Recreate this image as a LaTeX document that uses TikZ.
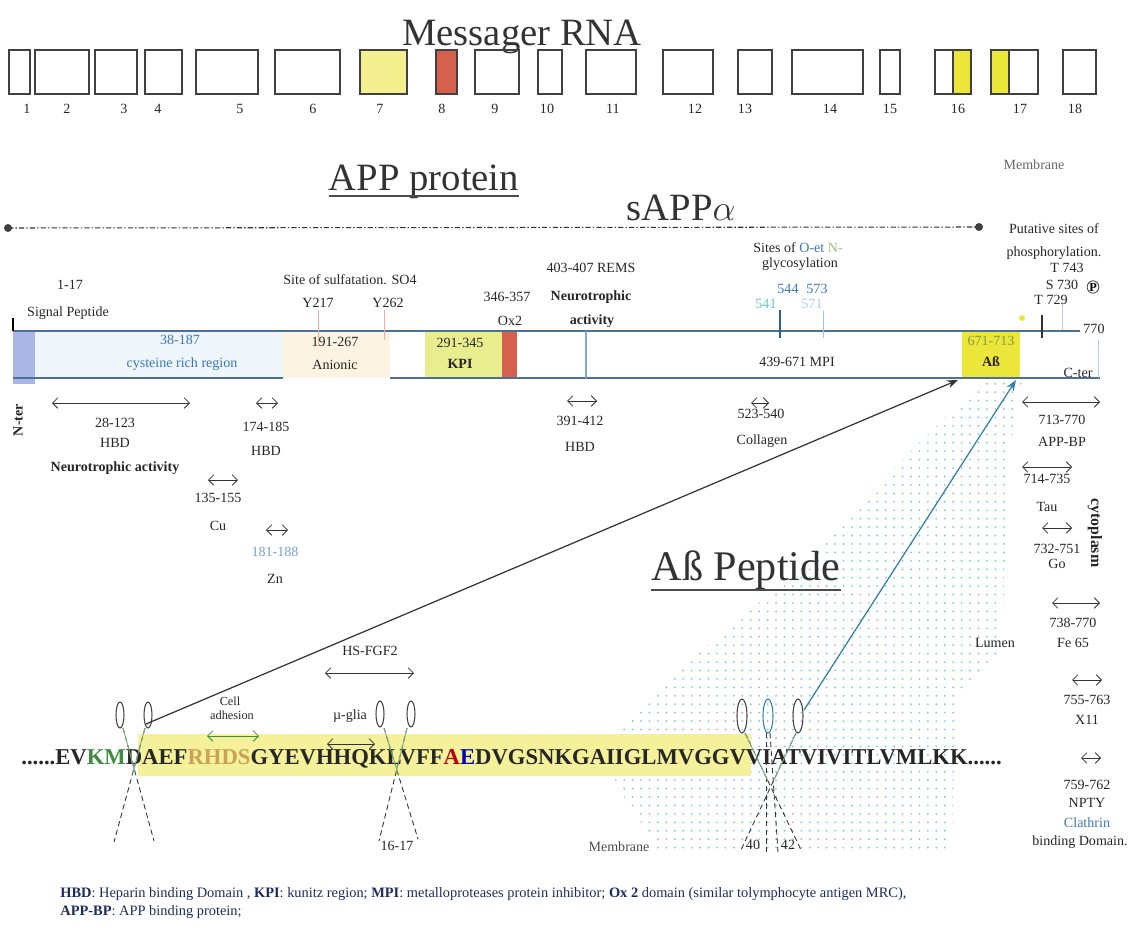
\documentclass[tikz,border=0pt]{standalone}
\usepackage{fontspec}
\setmainfont{Liberation Serif}
\usetikzlibrary{arrows.meta,patterns,calc,shapes.geometric}

\definecolor{exyel}{HTML}{F3EF8E}
\definecolor{exred}{HTML}{D5604E}
\definecolor{abyel}{HTML}{EDE63A}
\definecolor{kpiyel}{HTML}{E8EE8E}
\definecolor{txtblue}{HTML}{3C78B4}
\definecolor{barline}{HTML}{4E6F98}
\definecolor{barblue}{HTML}{7AAAD8}
\definecolor{sigblue}{HTML}{AAB6E6}
\definecolor{cysblue}{HTML}{EEF5FB}
\definecolor{anipeach}{HTML}{FDF3E2}
\definecolor{seqyel}{HTML}{F4F19A}
\definecolor{rhds}{HTML}{C9A258}
\definecolor{seqgreen}{HTML}{3F8C3F}
\definecolor{abgreen}{HTML}{7F9C44}
\definecolor{cutblue}{HTML}{2E7FA6}
\definecolor{footnavy}{HTML}{1C2B5C}
\definecolor{stipblue}{HTML}{8EC3EA}

\pgfdeclarepatternformonly{stip}{\pgfqpoint{-1pt}{-1pt}}{\pgfqpoint{1pt}{1pt}}{\pgfqpoint{4.8pt}{4.8pt}}%
  {\pgfpathcircle{\pgfqpoint{0pt}{0pt}}{0.6pt}\pgfusepath{fill}}

\newcommand\rangebar[3]{\draw[rng] (#1,#3) -- (#2,#3);}

\begin{document}
\begin{tikzpicture}[x=0.2mm,y=-0.2mm,>=Stealth,
  lab/.style={font=\fontsize{8}{8.5}\selectfont, inner sep=0.5pt, text=black!85},
  bl/.style={font=\fontsize{8}{8.5}\selectfont\bfseries, inner sep=0.5pt, text=black!85},
  blu/.style={lab, text=txtblue},
  bigtitle/.style={font=\fontsize{22}{24}\selectfont, inner sep=0pt, text=black!80},
  rng/.style={{Straight Barb[length=3pt,width=6pt]}-{Straight Barb[length=3pt,width=6pt]}, line width=0.45pt, black!80},
  exon/.style={draw=black!75, line width=0.9pt},
  loop/.style={draw=black!75, line width=0.6pt},
  cutline/.style={black!80, line width=0.5pt, dash pattern=on 3pt off 2pt}]
\useasboundingbox (0,0) rectangle (1131,932);

\fill[pattern=stip, pattern color=stipblue] (985,380) -- (1022,380) -- (1008,460) -- (1002,650) -- (955,700)
  -- (952,852) -- (660,852) -- (600,760) -- (620,730) -- (680,670) -- (786,580) -- (928,434) -- cycle;

\node[bigtitle, anchor=base] (mrna) at (522,45) {Messager RNA};
\fill[exyel] (360,50) rectangle (407,94);
\fill[exred] (436,50) rectangle (457,94);
\fill[abyel] (953,50) rectangle (971,94);
\fill[abyel] (991,50) rectangle (1009,94);
\foreach \a/\b/\n/\lx in {9/30/1/27, 35/89/2/67, 95/137/3/124, 145/182/4/158, 196/258/5/240, 275/340/6/313,
    360/407/7/380, 436/457/8/442, 475/519/9/495, 538/562/10/547, 586/636/11/613, 663/713/12/695,
    738/772/13/745, 792/863/14/830, 880/900/15/890, 935/971/16/958, 991/1038/17/1020, 1063/1096/18/1075}
  {\draw[exon] (\a,50) rectangle (\b,94);
   \node[lab] (ex\n) at (\lx,109) {\n};}
\draw[exon] (953,50) -- (953,94);
\draw[exon] (1009,50) -- (1009,94);

\node[bigtitle, anchor=base] (app) at (424,190) {APP protein};
\draw[line width=1.3pt, black!70] ($(app.base west)+(0,6)$) -- ($(app.base east)+(0,6)$);
\node[bigtitle, anchor=base] (sapp) at (681,220) {sAPP$\alpha$};
\node[lab, text=black!60] (memb) at (1034,165) {Membrane};

\coordinate (nl) at (8,228);
\coordinate (nr) at (979,227);
\draw[dash pattern=on 3pt off 1.2pt on 0.8pt off 1.2pt, line width=0.6pt, black!80] (nl) -- (nr);
\fill[black!75] (nl) circle[radius=4];
\fill[black!75] (nr) circle[radius=4];

\fill[cysblue] (35,331) rectangle (283,378);
\fill[anipeach] (283,331) rectangle (390,378);
\fill[kpiyel] (425,331) rectangle (502,378);
\fill[exred] (502,331) rectangle (517,378);
\fill[abyel] (962,331) rectangle (1020,378);
\fill[sigblue] (13,331) rectangle (35,384);
\draw[barline, line width=0.8pt] (13,331) -- (1080,331);
\draw[barline, line width=0.8pt] (13,378) -- (283,378);
\draw[barline, line width=0.8pt] (390,378) -- (1100,378);
\draw[barblue!60, line width=0.5pt] (1098,340) -- (1098,378);
\draw[black, line width=0.6pt] (13,318) -- (13,331);
\draw[red!35, line width=0.4pt] (318,310) -- (318,345);
\draw[red!35, line width=0.4pt] (384,310) -- (384,340);
\draw[barblue, line width=1pt] (586,331) -- (586,378);
\draw[txtblue!80!black, line width=1.2pt] (780,310) -- (780,338);
\draw[barblue!70, line width=0.5pt] (823,311) -- (823,338);
\draw[black!80, line width=1.2pt] (1042,315) -- (1042,338);
\draw[barblue!60, line width=0.5pt] (1062,302) -- (1062,330);
\fill[abyel] (1022,318) circle[radius=3];

\node[lab] (sp1) at (70,285) {1-17};
\node[lab] (sp2) at (68,313) {Signal Peptide};
\node[blu] (cy1) at (180,340) {38-187};
\node[blu] (cy2) at (182,364) {cysteine rich region};
\node[lab] (su1) at (350,280) {Site of sulfatation. SO4};
\node[lab] (su2) at (318,303) {Y217};
\node[lab] (su3) at (388,303) {Y262};
\node[lab] (an1) at (335,342) {191-267};
\node[lab] (an2) at (335,365) {Anionic};
\node[lab] (kp1) at (460,343) {291-345};
\node[bl] (kp2) at (460,364) {KPI};
\node[lab] (ox1) at (507,297) {346-357};
\node[lab] (ox2) at (510,321) {Ox2};
\node[lab] (re1) at (591,268) {403-407 REMS};
\node[bl] (re2) at (591,297) {Neurotrophic};
\node[bl] (re3) at (592,321) {activity};
\node[lab] (gl1) at (798,248) {Sites of \textcolor{txtblue}{O-et} \textcolor{abgreen!70}{N-}};
\node[lab] (gl2) at (800,264) {glycosylation};
\node[blu] (gl3) at (788,289) {544};
\node[blu] (gl4) at (817,289) {573};
\node[lab, text=cyan!50!green!60] (gl5) at (766,304) {541};
\node[lab, text=barblue!60] (gl6) at (812,304) {571};
\node[lab] (mpi) at (797,362) {439-671 MPI};
\node[lab, text=abgreen] (ab1) at (991,341) {671-713};
\node[bl] (ab2) at (991,362) {Aß};
\node[lab] (cter) at (1078,373) {C-ter};
\node[lab] (c770) at (1094,329) {770};
\node[lab] (ph1) at (1054,229) {Putative sites of};
\node[lab] (ph2) at (1054,253) {phosphorylation.};
\node[lab] (ph3) at (1067,268) {T 743};
\node[lab] (ph4) at (1062,285) {S 730};
\node[lab] (ph5) at (1051,300) {T 729};
\node[ellipse, draw=black!70, inner sep=0.2pt, line width=0.5pt, font=\fontsize{7}{7}\selectfont\bfseries] (phos) at (1093,287) {P};
\node[lab, rotate=90, font=\fontsize{8}{8.5}\selectfont\bfseries] (nter) at (18,420) {N-ter};

\rangebar{52}{190}{403}
\node[lab] (hb1) at (115,423) {28-123};
\node[lab] (hb2) at (115,443) {HBD};
\node[bl] (hb3) at (115,468) {Neurotrophic activity};
\rangebar{256}{278}{403}
\node[lab] (hb4) at (266,427) {174-185};
\node[lab] (hb5) at (266,451) {HBD};
\rangebar{208}{238}{480}
\node[lab] (cu1) at (218,498) {135-155};
\node[lab] (cu2) at (218,526) {Cu};
\rangebar{266}{288}{530}
\node[lab, text=txtblue!70] (zn1) at (275,552) {181-188};
\node[lab] (zn2) at (275,579) {Zn};
\rangebar{567}{597}{401}
\node[lab] (hb6) at (580,421) {391-412};
\node[lab] (hb7) at (580,447) {HBD};
\rangebar{751}{769}{403}
\node[lab] (co1) at (761,414) {523-540};
\node[lab] (co2) at (762,441) {Collagen};

\rangebar{1022}{1100}{402}
\node[lab] (bp1) at (1062,420) {713-770};
\node[lab] (bp2) at (1062,442) {APP-BP};
\rangebar{1022}{1072}{467}
\node[lab] (ta1) at (1047,479) {714-735};
\node[lab] (ta2) at (1047,507) {Tau};
\rangebar{1042}{1072}{528}
\node[lab] (go1) at (1057,549) {732-751};
\node[lab] (go2) at (1057,564) {Go};
\node[bl, rotate=-90, font=\fontsize{9}{9}\selectfont\bfseries] (cyto) at (1095,533) {cytoplasm};
\rangebar{1052}{1100}{603}
\node[lab] (fe1) at (1073,623) {738-770};
\node[lab] (fe2) at (1073,643) {Fe 65};
\node[lab] (lum) at (995,643) {Lumen};
\rangebar{1072}{1102}{680}
\node[lab] (xa1) at (1087,700) {755-763};
\node[lab] (xa2) at (1087,720) {X11};
\rangebar{1081}{1101}{758}
\node[lab] (np1) at (1087,785) {759-762};
\node[lab] (np2) at (1087,803) {NPTY};
\node[blu] (np3) at (1087,823) {Clathrin};
\node[lab] (np4) at (1080,842) {binding Domain.};

\node[bigtitle, anchor=base, font=\fontsize{24}{26}\selectfont] (abp) at (746,580) {Aß Peptide};
\draw[line width=1.3pt, black!70] ($(abp.base west)+(0,10)$) -- ($(abp.base east)+(0,10)$);

\fill[seqyel] (138,734) rectangle (751,776);
\node[anchor=base west, inner sep=0pt, font=\fontsize{12.9}{14}\selectfont\bfseries, text=black!85] (seq) at (21,764)
  {......EV\textcolor{seqgreen}{KM}DAEF\textcolor{rhds}{RHDS}GYEVHHQKLVFF\textcolor{red!75!black}{A}\textcolor{blue!70!black}{E}DVGSNKGAIIGLMVGGVVIATVIVITLVMLKK......};

\node[lab, font=\fontsize{7}{7.5}\selectfont] (ca1) at (230,701) {Cell};
\node[lab, font=\fontsize{7}{7.5}\selectfont] (ca2) at (232,715) {adhesion};
\draw[rng, seqgreen] (207,736) -- (259,736);
\node[lab] (hs1) at (370,651) {HS-FGF2};
\draw[rng] (325,673) -- (414,673);
\node[lab] (mg1) at (350,716) {µ-glia};
\draw[rng] (327,744) -- (375,744);

\draw[loop] (120,715) ellipse[x radius=4, y radius=13];
\draw[loop] (148,715) ellipse[x radius=4, y radius=13];
\coordinate (s1a) at (123,728); \coordinate (s1b) at (154,841);
\coordinate (s1c) at (145,728); \coordinate (s1d) at (114,842);
\draw[cutline] (s1a) -- (s1b);
\draw[cutline] (s1c) -- (s1d);
\draw[seqgreen!70, line width=0.5pt] (s1a) -- ($(s1a)!0.4!(s1b)$);
\draw[seqgreen!70, line width=0.5pt] (s1c) -- ($(s1c)!0.4!(s1d)$);

\draw[loop] (380,714) ellipse[x radius=4, y radius=13];
\draw[loop] (411,714) ellipse[x radius=4, y radius=13];
\coordinate (s2a) at (384,728); \coordinate (s2b) at (418,839);
\coordinate (s2c) at (407,728); \coordinate (s2d) at (379,841);
\draw[cutline] (s2a) -- (s2b);
\draw[cutline] (s2c) -- (s2d);
\draw[seqgreen!70, line width=0.5pt] (s2a) -- ($(s2a)!0.4!(s2b)$);
\draw[seqgreen!70, line width=0.5pt] (s2c) -- ($(s2c)!0.4!(s2d)$);
\node[lab] (c1617) at (397,846) {16-17};

\draw[loop] (742,716) ellipse[x radius=5, y radius=17];
\draw[loop, draw=cutblue] (768,716) ellipse[x radius=5, y radius=17];
\draw[loop] (798,716) ellipse[x radius=5, y radius=17];
\coordinate (s3a) at (745,733); \coordinate (s3b) at (802,852);
\coordinate (s3c) at (796,733); \coordinate (s3d) at (740,852);
\coordinate (s3e) at (766,733); \coordinate (s3f) at (766,852);
\coordinate (s3g) at (770,733); \coordinate (s3h) at (778,852);
\draw[cutline] (s3a) -- (s3b);
\draw[cutline] (s3c) -- (s3d);
\draw[cutline] (s3e) -- (s3f);
\draw[cutline] (s3g) -- (s3h);
\draw[seqgreen!70, line width=0.5pt] (s3a) -- ($(s3a)!0.4!(s3b)$);
\draw[seqgreen!70, line width=0.5pt] (s3c) -- ($(s3c)!0.4!(s3d)$);
\node[lab] (c40) at (753,845) {40};
\node[lab] (c42) at (788,845) {42};
\node[lab, text=black!70] (mbr) at (619,847) {Membrane};

\coordinate (cutL) at (146,724);
\coordinate (cutR) at (804,710);
\coordinate (abL) at (958,380);
\coordinate (abR) at (1016,380);
\draw[->, black!80, line width=0.7pt] (cutL) -- (abL);
\draw[->, cutblue, line width=0.7pt] (cutR) -- (abR);

\node[anchor=base west, inner sep=0pt, font=\fontsize{8.2}{9}\selectfont, text=footnavy] (foot1) at (60,897)
  {\textbf{HBD}: Heparin binding Domain , \textbf{KPI}: kunitz region; \textbf{MPI}: metalloproteases protein inhibitor; \textbf{Ox 2} domain (similar tolymphocyte antigen MRC),};
\node[anchor=base west, inner sep=0pt, font=\fontsize{8.2}{9}\selectfont, text=footnavy] (foot2) at (60,915)
  {\textbf{APP-BP}: APP binding protein;};
\end{tikzpicture}
\end{document}
